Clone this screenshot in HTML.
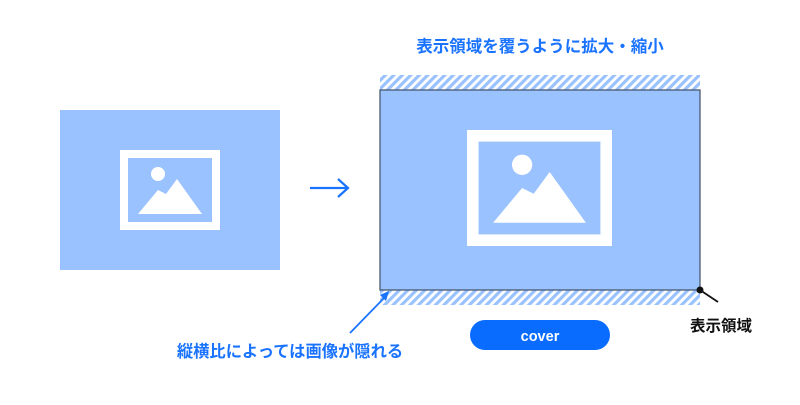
<!DOCTYPE html>
<html><head><meta charset="utf-8"><style>
body{margin:0;background:#fff;width:800px;height:400px;overflow:hidden;font-family:"Liberation Sans","Noto Sans CJK JP",sans-serif}
</style></head><body>
<svg width="800" height="400" xmlns="http://www.w3.org/2000/svg">
<defs>
<pattern id="h" width="6" height="6" patternUnits="userSpaceOnUse" patternTransform="rotate(45)">
<rect width="6" height="6" fill="#fff"/><rect width="3.2" height="6" fill="#9ac2ff"/>
</pattern>
<g id="ic">
<rect x="124" y="154" width="92" height="72" fill="none" stroke="#fff" stroke-width="8"/>
<circle cx="158" cy="174" r="7" fill="#fff"/>
<path d="M138 214 L158 190 L166 194 L177 179 L202 214 Z" fill="#fff"/>
</g>
</defs>
<text x="540" y="52" text-anchor="middle" font-size="16.5" font-weight="bold" fill="#1a73ff">表示領域を覆うように拡大・縮小</text>
<rect x="60" y="110" width="220" height="160" fill="#9ac2ff"/>
<use href="#ic"/>
<line x1="310" y1="188" x2="348" y2="188" stroke="#1a73ff" stroke-width="2.2"/>
<path d="M338 179 L348 188 L338 197" fill="none" stroke="#1a73ff" stroke-width="2.2"/>
<rect x="380" y="75" width="320" height="15" fill="url(#h)"/>
<rect x="380" y="290" width="320" height="15" fill="url(#h)"/>
<rect x="380" y="90" width="320" height="200" fill="#9ac2ff" stroke="#4a5a70" stroke-width="1.3"/>
<g transform="translate(293 -87.5) scale(1.45)"><use href="#ic"/></g>
<line x1="350" y1="333" x2="386" y2="296" stroke="#1a73ff" stroke-width="1.8"/>
<path d="M380 295 L389 291 L386 301 Z" fill="#1a73ff"/>
<text x="290" y="357" text-anchor="middle" font-size="16.3" font-weight="bold" fill="#1a73ff">縦横比によっては画像が隠れる</text>
<circle cx="700" cy="290" r="3.5" fill="#111"/>
<line x1="700" y1="290" x2="718" y2="302" stroke="#111" stroke-width="1.8"/>
<text x="721" y="331" text-anchor="middle" font-size="15.5" font-weight="bold" fill="#111">表示領域</text>
<rect x="470" y="320" width="140" height="30" rx="15" fill="#0a6cff"/>
<text x="540" y="341" text-anchor="middle" font-size="14.5" font-weight="bold" fill="#fff">cover</text>
</svg>
</body></html>
